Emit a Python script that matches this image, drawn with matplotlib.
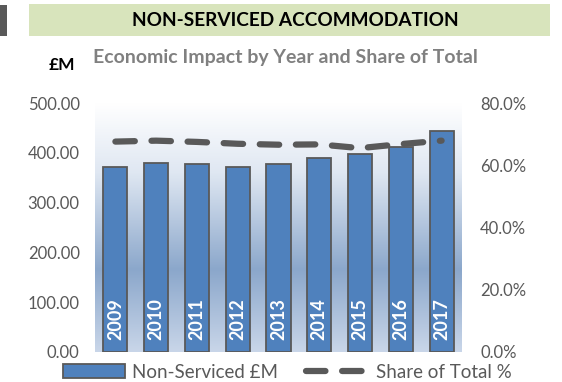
import numpy as np
import matplotlib
matplotlib.use("Agg")
import matplotlib.pyplot as plt
from matplotlib.colors import LinearSegmentedColormap
from matplotlib.patches import Patch, Rectangle
from matplotlib.lines import Line2D

plt.rcParams['font.family'] = ['Lato', 'DejaVu Sans']
plt.rcParams['lines.scale_dashes'] = False

years = ['2009', '2010', '2011', '2012', '2013', '2014', '2015', '2016', '2017']
spend_m = [372, 380, 377, 372, 377, 390, 398, 412, 444]
share_pct = [67.6, 67.9, 67.5, 66.9, 66.6, 66.7, 65.5, 66.8, 67.9]

left_ticks = [0, 100, 200, 300, 400, 500]
right_ticks = [0, 20, 40, 60, 80]

grey_txt = '#595959'
bar_col = '#4f81bd'

fig = plt.figure(figsize=(5.62, 3.82), dpi=100)
fig.patch.set_facecolor('white')

# header band
fig.patches.append(Rectangle((29 / 562, 1 - 36 / 382), 521 / 562, 32 / 382,
                             transform=fig.transFigure, facecolor='#d8e4bc',
                             edgecolor='none'))
fig.patches.append(Rectangle((0, 1 - 36 / 382), 7 / 562, 31 / 382,
                             transform=fig.transFigure, facecolor='#595959',
                             edgecolor='none'))
fig.text(295 / 562, 1 - 20 / 382, 'NON-SERVICED ACCOMMODATION', ha='center',
         va='center', fontsize=13.7, fontweight='bold', color='black')
fig.text(285 / 562, 1 - 57 / 382, 'Economic Impact by Year and Share of Total',
         ha='center', va='center', fontsize=14, fontweight='bold',
         color='#808080')
fig.text(62 / 562, 1 - 65 / 382, '£M', ha='center', va='center',
         fontsize=12.5, fontweight='bold', color='black')

ax = fig.add_axes([95 / 562, 30 / 382, 367 / 562, 249 / 382])
x = np.arange(len(years))

# vertical gradient behind the plot area
grad = LinearSegmentedColormap.from_list(
    'bg', [(0.0, '#c9d6e9'), (0.33, '#8ba7cb'), (0.72, '#dfe7f2'), (1.0, '#ffffff')])
ax.imshow(np.linspace(0, 1, 256).reshape(-1, 1), cmap=grad, aspect='auto',
          origin='lower', extent=[-0.5, len(years) - 0.5, 0, 500], zorder=0)

ax.bar(x, spend_m, width=0.59, color=bar_col, edgecolor='#595959',
       linewidth=1.3, zorder=2)
for xi, yr in zip(x, years):
    ax.text(xi, 24, yr, rotation=90, ha='center', va='bottom', color='white',
            fontsize=13, fontweight='bold', zorder=3)

ax.set_xlim(-0.5, len(years) - 0.5)
ax.set_ylim(0, 500)
ax.set_yticks(left_ticks)
ax.set_yticklabels([f'{v:.2f}' for v in left_ticks])
ax.set_xticks([])
ax.tick_params(axis='y', length=0, pad=11, labelsize=12, labelcolor=grey_txt)
for s in ax.spines.values():
    s.set_visible(False)

ax2 = ax.twinx()
ax2.plot(x, share_pct, color='#595959', linewidth=4.5, dashes=(14, 12),
         dash_capstyle='round', zorder=4)
ax2.set_ylim(0, 80)
ax2.set_yticks(right_ticks)
ax2.set_yticklabels([f'{v:.1f}%' for v in right_ticks])
ax2.tick_params(axis='y', length=0, pad=13, labelsize=12, labelcolor=grey_txt)
for s in ax2.spines.values():
    s.set_visible(False)

handles = [
    Patch(facecolor=bar_col, edgecolor='#595959', linewidth=1.3),
    Line2D([0], [0], color='#595959', linewidth=4.5, dashes=(14, 12),
           dash_capstyle='round'),
]
fig.legend(handles, ['Non-Serviced £M', 'Share of Total %'], loc='center',
           bbox_to_anchor=(287 / 562, 10 / 382), ncol=2, frameon=False,
           fontsize=13.5, labelcolor=grey_txt, handlelength=3.3,
           handleheight=0.7, columnspacing=1.5, handletextpad=0.4,
           borderpad=0, borderaxespad=0)

fig.savefig('out.png', dpi=100)
